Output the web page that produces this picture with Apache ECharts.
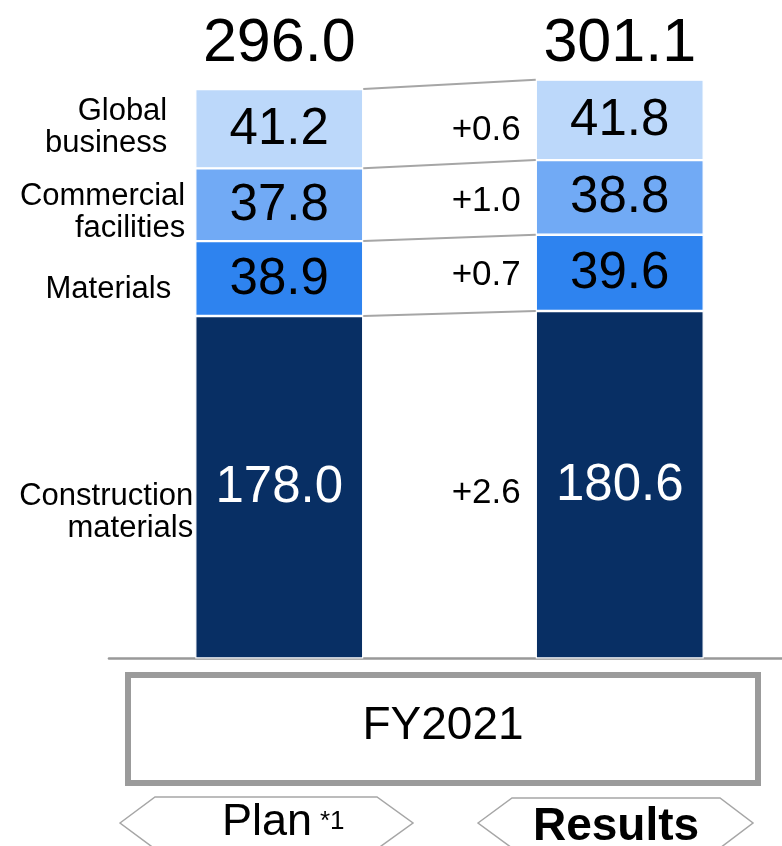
<!DOCTYPE html>
<html>
<head>
<meta charset="utf-8">
<script src="https://cdn.jsdelivr.net/npm/echarts@6/dist/echarts.min.js"></script>
<style>
  html, body { margin: 0; padding: 0; background: #fff; }
  #chart { width: 782px; height: 846px; }
</style>
</head>
<body>
<div id="chart"></div>
<script>
// Net sales by segment, FY2021 plan vs. results (stacked from the bottom)
const periods = ['Plan', 'Results'];
const segmentNames = ['Construction\nmaterials', 'Materials', 'Commercial\nfacilities', 'Global\nbusiness'];
const construction = [178.0, 180.6];
const materials = [38.9, 39.6];
const commercial = [37.8, 38.8];
const globalBusiness = [41.2, 41.8];
const totals = [296.0, 301.1];
const fiscalYear = 'FY2021';

const segmentValues = [construction, materials, commercial, globalBusiness];
const segmentColors = ['#082F64', '#2E83EF', '#71AAF5', '#BCD8FA'];
const labelColors = ['#fff', '#000', '#000', '#000'];

const FONT = '"Liberation Sans", Arial, Helvetica, sans-serif';
const BAR_W = 168;
const HALF = BAR_W / 2;

// cumulative stack heights per period
const cum = periods.map((_, p) => {
  let s = 0;
  return segmentValues.map(v => (s += v[p]));
});
const stackTops = cum.map(c => c[c.length - 1]);

// label placement tweaks for segment names (gap from bar, vertical shift)
const nameGap = [2, 24, 10, 28];
const nameShift = [25, 11, 8, -1];
const changeShift = [7, 0, 0, 6];

const barSeries = segmentValues.map((vals, k) => ({
  type: 'bar',
  name: segmentNames[k],
  stack: 'sales',
  barWidth: BAR_W,
  data: vals,
  itemStyle: { color: segmentColors[k], borderColor: '#fff', borderWidth: 1.2 },
  label: {
    show: true,
    position: 'inside',
    offset: [0, 1],
    formatter: p => p.value.toFixed(1),
    fontFamily: FONT,
    fontSize: 51,
    color: labelColors[k]
  },
  emphasis: { disabled: true },
  z: 2
}));

// connectors between segment boundaries and change labels
const connectorSeries = {
  type: 'custom',
  coordinateSystem: 'cartesian2d',
  clip: false,
  silent: true,
  z: 3,
  data: segmentValues.map((_, k) => [0, cum[0][k]]),
  renderItem: (params, api) => {
    const k = params.dataIndex;
    const pL = api.coord([0, cum[0][k]]);
    const pR = api.coord([1, cum[1][k]]);
    const midL = api.coord([0, cum[0][k] - segmentValues[k][0] / 2])[1];
    const midR = api.coord([1, cum[1][k] - segmentValues[k][1] / 2])[1];
    const diff = segmentValues[k][1] - segmentValues[k][0];
    return {
      type: 'group',
      children: [
        {
          type: 'line',
          shape: { x1: pL[0] + HALF, y1: pL[1], x2: pR[0] - HALF, y2: pR[1] },
          style: { stroke: '#A6A6A6', lineWidth: 2 }
        },
        {
          type: 'text',
          x: pR[0] - HALF - 15,
          y: (midL + midR) / 2 + changeShift[k],
          style: {
            text: (diff >= 0 ? '+' : '') + diff.toFixed(1),
            fontFamily: FONT, fontSize: 35, fill: '#000',
            align: 'right', verticalAlign: 'middle'
          }
        }
      ]
    };
  }
};

// segment names to the left of the plan bar
const nameSeries = {
  type: 'custom',
  coordinateSystem: 'cartesian2d',
  clip: false,
  silent: true,
  z: 3,
  data: segmentValues.map((v, k) => [0, cum[0][k] - v[0] / 2]),
  renderItem: (params, api) => {
    const k = params.dataIndex;
    const p = api.coord([0, cum[0][k] - segmentValues[k][0] / 2]);
    return {
      type: 'text',
      x: p[0] - HALF - nameGap[k],
      y: p[1] + nameShift[k],
      style: {
        text: segmentNames[k],
        fontFamily: FONT, fontSize: 31, lineHeight: 32, fill: '#000',
        align: 'right', verticalAlign: 'middle'
      }
    };
  }
};

// totals above each bar, on a common line
const totalSeries = {
  type: 'custom',
  coordinateSystem: 'cartesian2d',
  clip: false,
  silent: true,
  z: 3,
  data: totals.map((t, i) => [i, t]),
  renderItem: (params, api) => {
    const i = params.dataIndex;
    const x = api.coord([i, 0])[0];
    const y = api.coord([0, Math.max(...stackTops)])[1] - 35;
    return {
      type: 'text',
      x: x, y: y,
      style: {
        text: totals[i].toFixed(1),
        fontFamily: FONT, fontSize: 61, fill: '#000',
        align: 'center', verticalAlign: 'middle'
      }
    };
  }
};

const chart = echarts.init(document.getElementById('chart'), null, { renderer: 'canvas' });
chart.setOption({
  backgroundColor: '#fff',
  animation: false,
  grid: { left: 109, top: 4.2, width: 681, height: 654.3, outerBoundsMode: 'none', containLabel: false },
  xAxis: {
    type: 'category',
    data: periods,
    axisLine: { show: true, lineStyle: { color: '#999', width: 2.6 } },
    axisTick: { show: false },
    axisLabel: { show: false },
    splitLine: { show: false }
  },
  yAxis: {
    type: 'value', min: 0, max: 340, show: false, splitLine: { show: false }
  },
  series: [...barSeries, connectorSeries, nameSeries, totalSeries],
  graphic: [
    {
      type: 'rect',
      shape: { x: 128, y: 675, width: 630, height: 108 },
      style: { fill: '#fff', stroke: '#9B9B9B', lineWidth: 6 }
    },
    {
      type: 'text', x: 443, y: 726,
      style: { text: fiscalYear, fontFamily: FONT, fontSize: 46, fill: '#000', align: 'center', verticalAlign: 'middle' }
    },
    {
      type: 'polygon',
      shape: { points: [[120, 823], [155, 797], [377, 797], [413, 823], [377, 849], [155, 849]] },
      style: { fill: '#fff', stroke: '#A6A6A6', lineWidth: 1.5 }
    },
    {
      type: 'polygon',
      shape: { points: [[478, 823], [512, 798], [720, 798], [753, 823], [720, 848], [512, 848]] },
      style: { fill: '#fff', stroke: '#A6A6A6', lineWidth: 1.5 }
    },
    {
      type: 'text', x: 222, y: 823,
      style: { text: periods[0], fontFamily: FONT, fontSize: 45, fill: '#000', align: 'left', verticalAlign: 'middle' }
    },
    {
      type: 'text', x: 320, y: 822,
      style: { text: '*1', fontFamily: FONT, fontSize: 26, fill: '#000', align: 'left', verticalAlign: 'middle' }
    },
    {
      type: 'text', x: 616, y: 827,
      style: { text: periods[1], fontFamily: FONT, fontSize: 46, fontWeight: 'bold', fill: '#000', align: 'center', verticalAlign: 'middle' }
    }
  ]
});
</script>
</body>
</html>
